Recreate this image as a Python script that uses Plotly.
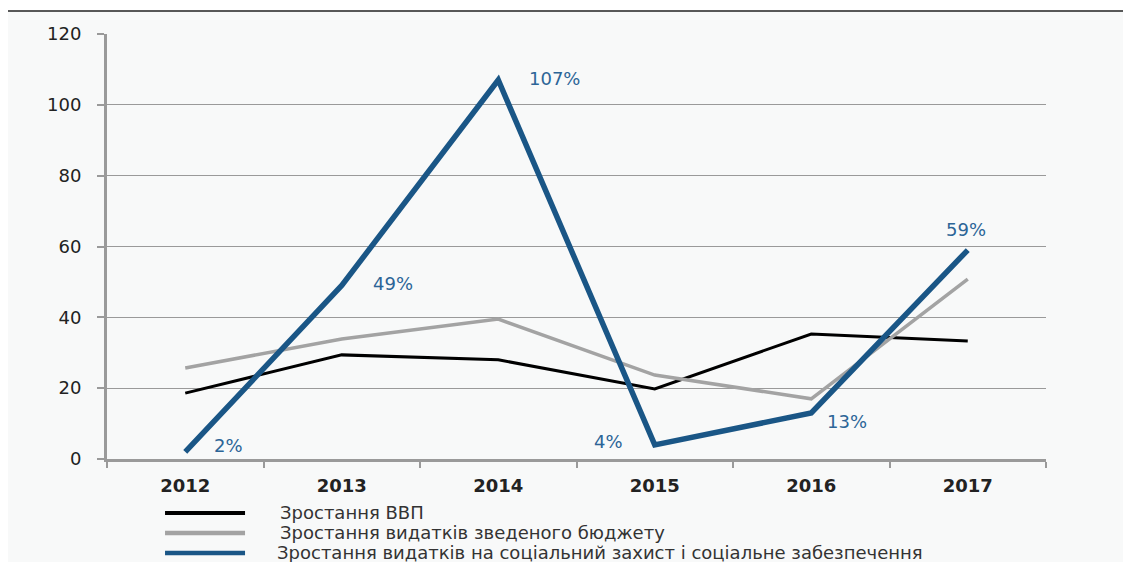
import plotly.graph_objects as go

years = ["2012", "2013", "2014", "2015", "2016", "2017"]
gdp = [18.6, 29.4, 28.0, 19.8, 35.3, 33.3]
budget = [25.7, 33.9, 39.5, 23.7, 17.0, 50.8]
social = [2, 49, 107, 4, 13, 59]
social_labels = ["2%", "49%", "107%", "4%", "13%", "59%"]
label_shift = [(43, 6), (51, 2), (56, 2), (-46, 3), (36, -9), (-2, 21)]
names = [
    "Зростання ВВП",
    "Зростання видатків зведеного бюджету",
    "Зростання видатків на соціальний захист і соціальне забезпечення",
]
colors = ["#000000", "#a3a3a3", "#1a5686"]
widths = [3, 3.5, 5.5]

fig = go.Figure()
for vals, name, col, w in zip([gdp, budget, social], names, colors, widths):
    fig.add_trace(go.Scatter(x=years, y=vals, mode="lines", name=name,
                             line=dict(color=col, width=w), showlegend=False))

for i, (v, lab, (dx, dy)) in enumerate(zip(social, social_labels, label_shift)):
    fig.add_annotation(x=i, y=v, xref="x", yref="y", text=lab, showarrow=False,
                       xshift=dx, yshift=dy,
                       font=dict(size=18, color="#2c6597", family="DejaVu Sans"))

# background frame (page has an 8px body margin; plot area 939x425)
shapes = [
    dict(type="rect", xref="paper", yref="paper", x0=-0.1065, x1=1.2, y0=-0.3, y1=1.054,
         fillcolor="#f8f9f9", line=dict(width=0), layer="below"),
    dict(type="line", xref="paper", yref="paper", x0=-0.1065, x1=1.2, y0=1.054, y1=1.054,
         line=dict(color="#222222", width=1.5)),
    dict(type="line", xref="paper", yref="paper", x0=-0.1065, x1=-0.1065, y0=-0.3, y1=1.054,
         line=dict(color="#222222", width=1.5)),
]
# manual legend
leg_y = [-0.127, -0.174, -0.221]
leg_x = [0.182, 0.182, 0.179]
for ly, lx, name, col, w in zip(leg_y, leg_x, names, colors, [4, 4.5, 4.5]):
    shapes.append(dict(type="line", xref="paper", yref="paper", x0=0.0618, x1=0.147,
                       y0=ly, y1=ly, line=dict(color=col, width=w)))
    fig.add_annotation(xref="paper", yref="paper", x=lx, y=ly, text=name,
                       showarrow=False, xanchor="left", yanchor="middle",
                       font=dict(size=18, color="#333333", family="DejaVu Sans"))

fig.update_layout(
    width=1131, height=562,
    margin=dict(l=99, r=93, t=26, b=111),
    paper_bgcolor="white", plot_bgcolor="rgba(0,0,0,0)",
    shapes=shapes,
    font=dict(family="Liberation Sans"),
    xaxis=dict(type="category", range=[-0.5, 5.5], showgrid=False, showline=True,
               linecolor="#9a9a9a", linewidth=3, ticks="outside", tickson="boundaries",
               ticklen=6, tickcolor="#9a9a9a", tickwidth=2,
               tickfont=dict(size=18, color="#222222", family="DejaVu Sans"),
               tickprefix="<b>", ticksuffix="</b>", ticklabelstandoff=8),
    yaxis=dict(range=[0, 120], dtick=20, showgrid=True, gridcolor="#9a9a9a", gridwidth=1.3,
               showline=True, linecolor="#9a9a9a", linewidth=3, zeroline=False,
               ticks="outside", ticklen=7, tickcolor="#9a9a9a", tickwidth=1.5,
               tickfont=dict(size=18, color="#222222", family="DejaVu Sans"),
               ticklabelstandoff=12),
)

fig.write_html("out.html")
